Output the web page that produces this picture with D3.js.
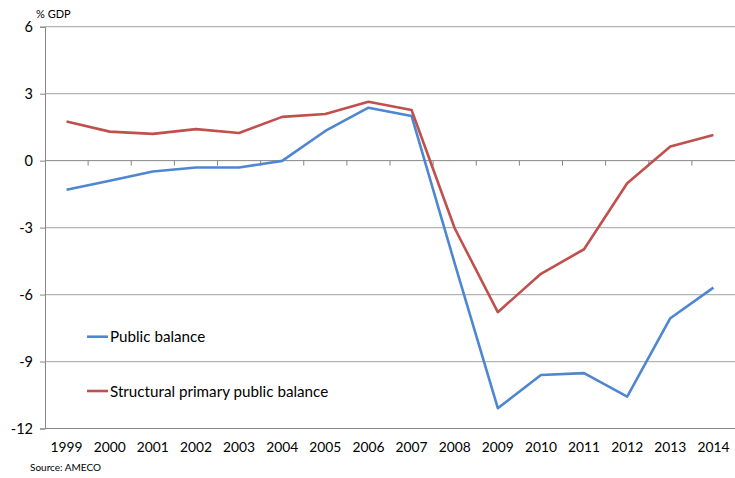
<!DOCTYPE html>
<html>
<head>
<meta charset="utf-8">
<script src="https://cdn.jsdelivr.net/npm/d3@7"></script>
<style>
  html, body { margin: 0; padding: 0; background: #fff; }
  svg text { font-family: Lato, "Open Sans", sans-serif; fill: #000; }
</style>
</head>
<body>
<svg id="chart" width="735" height="478"></svg>
<script>
// Years on the category axis
const years = ["1999","2000","2001","2002","2003","2004","2005","2006","2007","2008","2009","2010","2011","2012","2013","2014"];
// Balances, % of GDP
const publicBalance = [-1.3, -0.9, -0.49, -0.31, -0.31, -0.01, 1.33, 2.37, 2.0, -4.6, -11.09, -9.6, -9.52, -10.57, -7.06, -5.69];
const structuralPrimaryBalance = [1.75, 1.3, 1.2, 1.41, 1.24, 1.96, 2.09, 2.64, 2.27, -3.03, -6.79, -5.07, -3.97, -1.01, 0.63, 1.15];
const yTicks = [6, 3, 0, -3, -6, -9, -12];
const seriesNames = ["Public balance", "Structural primary public balance"];
const seriesColors = ["#4f86d0", "#c0504d"];

const svg = d3.select("#chart");
const plotLeft = 45, plotRight = 735, plotTop = 26.7, plotBottom = 428.5;

const x = d3.scaleBand().domain(years).range([plotLeft, plotRight]);
const y = d3.scaleLinear().domain([-12, 6]).range([plotBottom, plotTop]);

// horizontal gridlines
svg.append("g").selectAll("line")
  .data(yTicks.filter(v => v !== 0 && v !== -12))
  .join("line")
  .attr("x1", plotLeft).attr("x2", plotRight)
  .attr("y1", d => y(d)).attr("y2", d => y(d))
  .attr("stroke", "#b4b4b4").attr("stroke-width", 1.2);

// y axis (plain hyphen for negatives)
const yAxis = svg.append("g")
  .attr("transform", `translate(${plotLeft},0)`)
  .call(d3.axisLeft(y).tickValues(yTicks).tickSize(5).tickPadding(7).tickFormat(d => String(d)));
yAxis.select(".domain").attr("stroke", "#868686");
yAxis.selectAll(".tick line").attr("stroke", "#868686");
yAxis.selectAll(".tick text").attr("font-size", 14.5).attr("font-family", "Lato, sans-serif");

// bottom border line
svg.append("line")
  .attr("x1", plotLeft).attr("x2", plotRight)
  .attr("y1", y(-12)).attr("y2", y(-12))
  .attr("stroke", "#868686");

// zero axis with category boundary ticks
const zeroAxis = svg.append("g")
  .attr("transform", `translate(0,${y(0)})`);
zeroAxis.append("line")
  .attr("x1", plotLeft).attr("x2", plotRight)
  .attr("stroke", "#868686");
zeroAxis.selectAll("line.bnd")
  .data(years.slice(1))
  .join("line")
  .attr("class", "bnd")
  .attr("x1", d => x(d)).attr("x2", d => x(d))
  .attr("y1", 0).attr("y2", 5)
  .attr("stroke", "#868686");

// year labels
svg.append("g").selectAll("text")
  .data(years)
  .join("text")
  .attr("x", d => x(d) + x.bandwidth() / 2)
  .attr("y", 452)
  .attr("text-anchor", "middle")
  .attr("font-size", 13.8)
  .text(d => d);

// lines
const line = d3.line()
  .x((d, i) => x(years[i]) + x.bandwidth() / 2)
  .y(d => y(d));

[publicBalance, structuralPrimaryBalance].forEach((vals, k) => {
  svg.append("path")
    .datum(vals)
    .attr("fill", "none")
    .attr("stroke", seriesColors[k])
    .attr("stroke-width", 2.6)
    .attr("stroke-linejoin", "round")
    .attr("d", line);
});

// legend
const legendY = [336.7, 391];
seriesNames.forEach((name, k) => {
  svg.append("line")
    .attr("x1", 87).attr("x2", 108)
    .attr("y1", legendY[k]).attr("y2", legendY[k])
    .attr("stroke", seriesColors[k]).attr("stroke-width", 2.6);
  svg.append("text")
    .attr("x", 110).attr("y", legendY[k] + 5.5)
    .attr("font-size", 15.2)
    .text(name);
});

// unit and source notes
svg.append("text").attr("x", 36).attr("y", 18).attr("font-size", 11).text("% GDP");
svg.append("text").attr("x", 30).attr("y", 471).attr("font-size", 10).text("Source: AMECO");
</script>
</body>
</html>
